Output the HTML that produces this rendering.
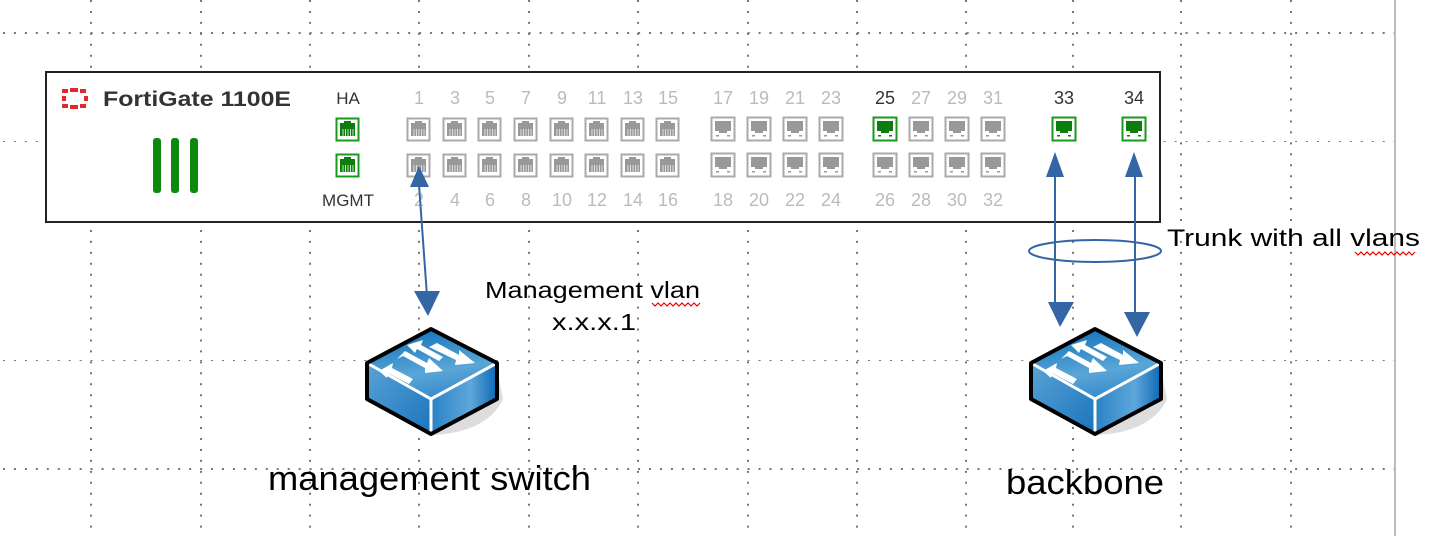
<!DOCTYPE html>
<html><head><meta charset="utf-8"><style>
html,body{margin:0;padding:0;background:#fff;}
svg{display:block;}
text{font-family:"Liberation Sans",sans-serif;}
</style></head><body>
<svg width="1440" height="536" viewBox="0 0 1440 536" xmlns="http://www.w3.org/2000/svg">
<defs>
<pattern id="hd" width="10.95" height="4" patternUnits="userSpaceOnUse" x="3" y="0"><rect width="2" height="2" fill="#777"/></pattern>
<linearGradient id="tg" x1="0" y1="0" x2="0.3" y2="1"><stop offset="0" stop-color="#0a6cb5"/><stop offset="0.7" stop-color="#5aa6d8"/><stop offset="1" stop-color="#3d8fcc"/></linearGradient>
<linearGradient id="lg" x1="0" y1="0" x2="1" y2="1"><stop offset="0" stop-color="#5aa3d6"/><stop offset="1" stop-color="#1a74bd"/></linearGradient>
<linearGradient id="rg" x1="0" y1="0" x2="1" y2="0"><stop offset="0" stop-color="#2a82c6"/><stop offset="0.6" stop-color="#5ea7da"/><stop offset="1" stop-color="#0b69b2"/></linearGradient>
<g id="sw">
<path d="M64 106 Q120 104 136 70 L132 50 L70 100 Z" fill="#ddd"/>
<polygon points="64,0 130,34 64,70 0,34" fill="url(#tg)"/>
<polygon points="0,34 64,70 64,105 0,70" fill="url(#lg)"/>
<polygon points="64,70 130,34 130,70 64,105" fill="url(#rg)"/>
<polyline points="0,34 64,70 130,34" fill="none" stroke="#fff" stroke-width="3"/>
<line x1="64" y1="70" x2="64" y2="105" stroke="#fff" stroke-width="3"/>
<polygon points="64,0 130,34 130,70 64,105 0,70 0,34" fill="none" stroke="#000" stroke-width="4" stroke-linejoin="round"/>
<g fill="#fff">
<polygon points="12,42 26,34 25,39 46,50 42,55 21,44 20,49"/>
<polygon points="30,30 38,22 60,34 62,29 76,42 58,44 58,39 36,27"/>
<polygon points="40,16 56,11 54,16 76,28 72,32 50,20 48,24"/>
<polygon points="62,18 70,14 92,26 92,21 108,34 88,36 89,31"/>
</g>
</g>
<g id="rj"><rect x="0.5" y="0.5" width="22" height="22" fill="#fff" stroke="#aaa" stroke-width="2"/><rect x="4" y="5" width="15" height="13" fill="#999"/><rect x="8" y="3" width="7" height="3" fill="#999"/><g stroke="#ddd" stroke-width="1"><line x1="7" y1="11" x2="7" y2="18"/><line x1="9.5" y1="11" x2="9.5" y2="18"/><line x1="12" y1="11" x2="12" y2="18"/><line x1="14.5" y1="11" x2="14.5" y2="18"/><line x1="17" y1="11" x2="17" y2="18"/></g></g>
<g id="rjg"><rect x="0.5" y="0.5" width="22" height="22" fill="#fff" stroke="#1a9a1a" stroke-width="2"/><rect x="4" y="5" width="15" height="13" fill="#0d7d0d"/><rect x="8" y="3" width="7" height="3" fill="#0d7d0d"/><g stroke="#bfe6bf" stroke-width="1"><line x1="7" y1="11" x2="7" y2="18"/><line x1="9.5" y1="11" x2="9.5" y2="18"/><line x1="12" y1="11" x2="12" y2="18"/><line x1="14.5" y1="11" x2="14.5" y2="18"/><line x1="17" y1="11" x2="17" y2="18"/></g></g>
<g id="sf"><rect x="0.5" y="0.5" width="23" height="23" fill="#fff" stroke="#aaa" stroke-width="2"/><rect x="4" y="4" width="16" height="10" fill="#999"/><rect x="8" y="14" width="8" height="2" fill="#999"/><rect x="5" y="18" width="3" height="1.5" fill="#999"/><rect x="16" y="18" width="3" height="1.5" fill="#999"/></g>
<g id="sfg"><rect x="0.5" y="0.5" width="23" height="23" fill="#fff" stroke="#1a9a1a" stroke-width="2"/><rect x="4" y="4" width="16" height="10" fill="#0d7d0d"/><rect x="8" y="14" width="8" height="2" fill="#0d7d0d"/><rect x="5" y="18" width="3" height="1.5" fill="#0d7d0d"/><rect x="16" y="18" width="3" height="1.5" fill="#0d7d0d"/></g>
</defs>

<g>
<rect x="0" y="32" width="1400" height="2" fill="url(#hd)"/>
<rect x="0" y="141" width="1400" height="2" fill="url(#hd)"/>
<rect x="0" y="250" width="1400" height="2" fill="url(#hd)"/>
<rect x="0" y="359" width="1400" height="2" fill="url(#hd)"/>
<rect x="0" y="468" width="1400" height="2" fill="url(#hd)"/>
</g>
<g stroke="#777" stroke-width="2" stroke-dasharray="2 8.95">
<line x1="91" y1="0" x2="91" y2="536"/>
<line x1="201" y1="0" x2="201" y2="536"/>
<line x1="310" y1="0" x2="310" y2="536"/>
<line x1="419" y1="0" x2="419" y2="536"/>
<line x1="529" y1="0" x2="529" y2="536"/>
<line x1="638" y1="0" x2="638" y2="536"/>
<line x1="748" y1="0" x2="748" y2="536"/>
<line x1="857" y1="0" x2="857" y2="536"/>
<line x1="966" y1="0" x2="966" y2="536"/>
<line x1="1073" y1="0" x2="1073" y2="536"/>
<line x1="1181" y1="0" x2="1181" y2="536"/>
<line x1="1291" y1="0" x2="1291" y2="536"/>
</g>
<line x1="1395" y1="0" x2="1395" y2="536" stroke="#bbb" stroke-width="2"/>

<rect x="46" y="72" width="1114" height="150" fill="#fff" stroke="#222" stroke-width="2"/>
<g fill="#e0282e">
<rect x="62" y="89" width="6" height="4"/><rect x="70" y="88" width="8" height="4"/><rect x="80" y="89" width="6" height="4"/>
<rect x="62" y="96" width="4" height="5"/><rect x="84" y="96" width="4" height="5"/>
<rect x="62" y="104" width="6" height="4"/><rect x="70" y="105" width="8" height="4"/><rect x="80" y="104" width="6" height="4"/>
</g>
<text x="103" y="106" font-size="21" font-weight="bold" fill="#333" textLength="188" lengthAdjust="spacingAndGlyphs">FortiGate 1100E</text>
<g fill="#0d8a0d"><rect x="153" y="138" width="8" height="55" rx="3"/><rect x="171" y="138" width="8" height="55" rx="3"/><rect x="190" y="138" width="8" height="55" rx="3"/></g>

<text x="348" y="104" font-size="17" fill="#333" text-anchor="middle">HA</text>
<text x="348" y="206" font-size="17" fill="#333" text-anchor="middle">MGMT</text>
<use href="#rjg" x="336" y="118"/><use href="#rjg" x="336" y="154"/>

<g font-size="18" fill="#bbb" text-anchor="middle">
<text x="419" y="104">1</text><text x="455" y="104">3</text><text x="490" y="104">5</text><text x="526" y="104">7</text><text x="562" y="104">9</text><text x="597" y="104">11</text><text x="633" y="104">13</text><text x="668" y="104">15</text>
<text x="723" y="104">17</text><text x="759" y="104">19</text><text x="795" y="104">21</text><text x="831" y="104">23</text><text x="921" y="104">27</text><text x="957" y="104">29</text><text x="993" y="104">31</text>
<text x="419" y="206">2</text><text x="455" y="206">4</text><text x="490" y="206">6</text><text x="526" y="206">8</text><text x="562" y="206">10</text><text x="597" y="206">12</text><text x="633" y="206">14</text><text x="668" y="206">16</text>
<text x="723" y="206">18</text><text x="759" y="206">20</text><text x="795" y="206">22</text><text x="831" y="206">24</text><text x="885" y="206">26</text><text x="921" y="206">28</text><text x="957" y="206">30</text><text x="993" y="206">32</text>
</g>
<g font-size="18" fill="#333" text-anchor="middle"><text x="885" y="104">25</text><text x="1064" y="104">33</text><text x="1134" y="104">34</text></g>

<g>
<use href="#rj" x="407" y="118"/><use href="#rj" x="443" y="118"/><use href="#rj" x="478" y="118"/><use href="#rj" x="514" y="118"/><use href="#rj" x="550" y="118"/><use href="#rj" x="585" y="118"/><use href="#rj" x="621" y="118"/><use href="#rj" x="656" y="118"/>
<use href="#rj" x="407" y="154"/><use href="#rj" x="443" y="154"/><use href="#rj" x="478" y="154"/><use href="#rj" x="514" y="154"/><use href="#rj" x="550" y="154"/><use href="#rj" x="585" y="154"/><use href="#rj" x="621" y="154"/><use href="#rj" x="656" y="154"/>
<use href="#sf" x="711" y="117"/><use href="#sf" x="747" y="117"/><use href="#sf" x="783" y="117"/><use href="#sf" x="819" y="117"/><use href="#sfg" x="873" y="117"/><use href="#sf" x="909" y="117"/><use href="#sf" x="945" y="117"/><use href="#sf" x="981" y="117"/>
<use href="#sf" x="711" y="153"/><use href="#sf" x="747" y="153"/><use href="#sf" x="783" y="153"/><use href="#sf" x="819" y="153"/><use href="#sf" x="873" y="153"/><use href="#sf" x="909" y="153"/><use href="#sf" x="945" y="153"/><use href="#sf" x="981" y="153"/>
<use href="#sfg" x="1052" y="117"/><use href="#sfg" x="1122" y="117"/>
</g>

<g stroke="#3465a4" stroke-width="2" fill="none">
<line x1="419" y1="185" x2="427" y2="296"/>
<line x1="1055" y1="165" x2="1055" y2="310"/>
<line x1="1135" y1="165" x2="1135" y2="320"/>
<ellipse cx="1095" cy="251" rx="66" ry="11"/>
</g>
<g fill="#3465a4">
<polygon points="419,166 410,187 429,187"/>
<polygon points="428,316 414,291 440,291"/>
<polygon points="1055,152 1046,177 1064,177"/>
<polygon points="1134,152 1125,177 1143,177"/>
<polygon points="1060,327 1048,302 1074,302"/>
<polygon points="1137,337 1124,312 1150,312"/>
</g>

<use href="#sw" x="367" y="329"/>
<use href="#sw" x="1031" y="329"/>

<text x="485" y="298" font-size="23" fill="#000" textLength="215" lengthAdjust="spacingAndGlyphs">Management vlan</text>
<path d="M652 303 l3 3 l3 -3 l3 3 l3 -3 l3 3 l3 -3 l3 3 l3 -3 l3 3 l3 -3 l3 3 l3 -3 l3 3 l3 -3 l3 3 l3 -3" stroke="#e00" stroke-width="1.2" fill="none"/>
<text x="552" y="330" font-size="23" fill="#000" textLength="84" lengthAdjust="spacingAndGlyphs">x.x.x.1</text>
<text x="1167" y="246" font-size="24" fill="#000" textLength="253" lengthAdjust="spacingAndGlyphs">Trunk with all vlans</text>
<path d="M1355 252 l3 3 l3 -3 l3 3 l3 -3 l3 3 l3 -3 l3 3 l3 -3 l3 3 l3 -3 l3 3 l3 -3 l3 3 l3 -3 l3 3 l3 -3 l3 3 l3 -3 l3 3 l3 -3" stroke="#e00" stroke-width="1.2" fill="none"/>
<text x="268" y="490" font-size="34" fill="#000" textLength="323" lengthAdjust="spacingAndGlyphs">management switch</text>
<text x="1006" y="494" font-size="34" fill="#000" textLength="158" lengthAdjust="spacingAndGlyphs">backbone</text>
</svg>
</body></html>
